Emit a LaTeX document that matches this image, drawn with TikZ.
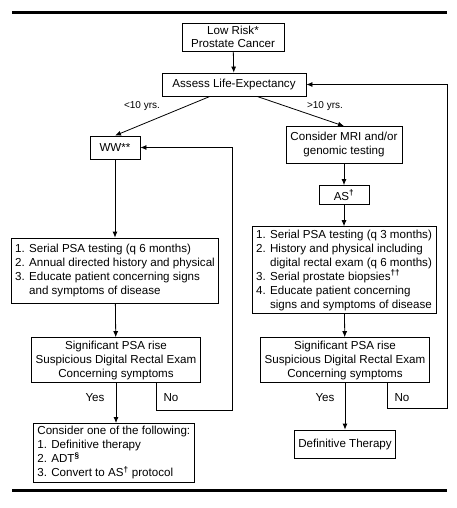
\documentclass[tikz,border=0pt]{standalone}
\usepackage{fontspec}
\setmainfont{Liberation Sans}
\usetikzlibrary{positioning, arrows.meta}

\newcommand{\dg}{\textsuperscript{\textbf{†}}}

\begin{document}
\begin{tikzpicture}[x=1pt, y=-1pt,
  box/.style={draw, line width=0.8pt, inner xsep=4pt, inner ysep=3pt, align=center, font=\fontsize{11.6}{14}\selectfont},
  arr/.style={-{Latex[length=6pt,width=5pt]}, line width=0.8pt},
  lab/.style={font=\fontsize{10}{12}\selectfont},
  ans/.style={font=\fontsize{11.6}{14}\selectfont}]

\useasboundingbox (0,0) rectangle (457,508);

% Rules
\draw[line width=3pt] (12,13) -- (447,13);
\draw[line width=3pt] (12,490) -- (447,490);

% Start
\node[box, minimum width=102pt, minimum height=28pt, font=\fontsize{11.6}{13}\selectfont] (low) at (233,37) {Low Risk*\\Prostate Cancer};
\node[box, minimum width=144pt, minimum height=23pt] (assess) at (234,84.5) {Assess Life-Expectancy};

% Watchful waiting branch
\node[box, minimum width=50pt, minimum height=23pt] (ww) at (115,147.5) {WW**};
\node[box, align=left, minimum width=205pt, minimum height=65pt] (listL) at (115,270.5) {1. Serial PSA testing (q 6 months)\\2. Annual directed history and physical\\3. Educate patient concerning signs\\\phantom{3. }and symptoms of disease};
\node[box, minimum width=166pt, minimum height=44pt] (sigL) at (116,360) {Significant PSA rise\\Suspicious Digital Rectal Exam\\Concerning symptoms};
\node[box, align=left, minimum height=54pt, anchor=north west] (optL) at (33,423) {Consider one of the following:\\1. Definitive therapy\\2. ADT\textsuperscript{\textbf{§}}\\3. Convert to AS\dg{} protocol};

% Active surveillance branch
\node[box, minimum width=116pt, minimum height=37pt] (mri) at (344,145) {Consider MRI and/or\\genomic testing};
\node[box, minimum width=50pt, minimum height=19pt] (as) at (344,195) {AS\dg};
\node[box, align=left, minimum width=184pt, minimum height=86pt] (listR) at (344,270) {1. Serial PSA testing (q 3 months)\\2. History and physical including\\\phantom{2. }digital rectal exam (q 6 months)\\3. Serial prostate biopsies\textsuperscript{\textbf{††}}\\4. Educate patient concerning\\\phantom{4. }signs and symptoms of disease};
\node[box, minimum width=168pt, minimum height=44pt] (sigR) at (345,360) {Significant PSA rise\\Suspicious Digital Rectal Exam\\Concerning symptoms};
\node[box, minimum width=97pt, minimum height=28pt] (def) at (345,444) {Definitive Therapy};

% Arrows
\draw[arr] (low) -- (assess);
\draw[arr] ([xshift=-24pt]assess.south) -- (ww.north);
\draw[arr] ([xshift=23pt]assess.south) -- (mri.north);
\draw[arr] (ww) -- (listL);
\draw[arr] (listL) -- (sigL);
\draw[arr] (sigL.south) -- (sigL.south |- optL.north);
\draw[arr] (mri) -- (as);
\draw[arr] (as) -- (listR);
\draw[arr] (listR) -- (sigR);
\draw[arr] (sigR) -- (def);

% Loops back
\coordinate (loopL) at (232,410);
\coordinate (loopR) at (447,408);
\draw[arr] ([xshift=40pt]sigL.south) |- (loopL) |- (ww.east);
\draw[arr] ([xshift=42pt]sigR.south) |- (loopR) |- (assess.east);

% Labels
\node[lab] (lt) at (142,106) {<10 yrs.};
\node[lab] (gt) at (325,106) {>10 yrs.};
\node[ans] (yesL) at (95,398) {Yes};
\node[ans] (noL) at (171,398) {No};
\node[ans] (yesR) at (325,398) {Yes};
\node[ans] (noR) at (402,398) {No};
\end{tikzpicture}
\end{document}
